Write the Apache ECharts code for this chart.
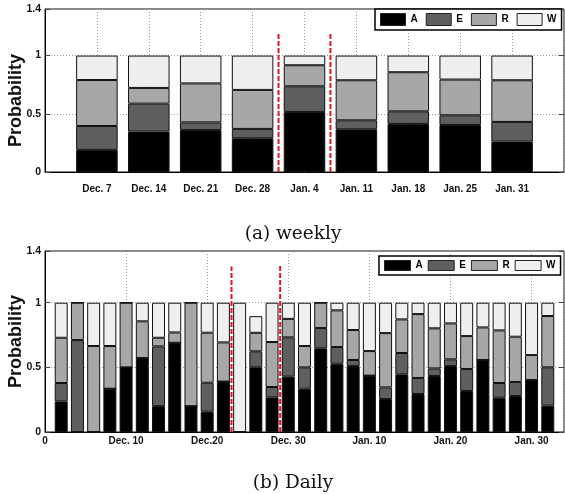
<!DOCTYPE html>
<html><head><meta charset="utf-8">
<script src="https://cdn.jsdelivr.net/npm/echarts@6/dist/echarts.min.js"></script>
<style>html,body{margin:0;padding:0;background:#fff}#c{width:565px;height:494px}</style>
</head><body><div id="c"></div>
<script>
// ---- data ----
const seriesNames = ['A', 'E', 'R', 'W'];

const weekLabels = ['Dec. 7','Dec. 14','Dec. 21','Dec. 28','Jan. 4','Jan. 11','Jan. 18','Jan. 25','Jan. 31'];
const weekA = [0.19, 0.347, 0.36, 0.29, 0.516, 0.367, 0.413, 0.404, 0.261];
const weekE = [0.205, 0.24, 0.066, 0.08, 0.22, 0.077, 0.108, 0.083, 0.169];
const weekR = [0.395, 0.135, 0.335, 0.335, 0.181, 0.344, 0.336, 0.307, 0.358];
const weekW = [0.21, 0.278, 0.239, 0.295, 0.083, 0.212, 0.143, 0.206, 0.212];
const weekDividers = [4.5, 5.5];
const weekDividerTops = [1.2, 1.2];

const dailyTickLabels = ['0', 'Dec. 10', 'Dec.20', 'Dec. 30', 'Jan. 10', 'Jan. 20', 'Jan. 30'];
const dailyDays = [2,4,6,8,10,12,14,16,18,20,22,24,26,28,30,32,34,36,38,40,42,44,46,48,50,52,54,56,58,60,62];
const dailyA = [0.237,0,0,0.335,0.5,0.572,0.2,0.69,0.2,0.157,0.39,0,0.5,0.268,0.428,0.335,0.647,0.528,0.51,0.436,0.255,0.446,0.294,0.433,0.51,0.317,0.557,0.265,0.278,0.402,0.204];
const dailyE = [0.142,0.711,0,0,0,0,0.462,0,0,0.224,0,0,0.124,0.08,0.304,0.165,0.157,0.129,0.047,0,0.09,0.165,0.124,0.059,0.052,0.17,0,0.114,0.109,0,0.296];
const dailyR = [0.35,0.289,0.665,0.33,0.5,0.284,0.067,0.08,0.8,0.387,0.303,0,0.143,0.348,0.143,0.165,0.196,0.284,0.232,0.19,0.42,0.26,0.494,0.31,0.278,0.255,0.252,0.407,0.35,0.193,0.397];
const dailyW = [0.271,0,0.335,0.335,0,0.144,0.271,0.23,0,0.232,0.307,1,0.129,0.304,0.125,0.335,0,0.059,0.211,0.374,0.235,0.129,0.088,0.198,0.16,0.258,0.191,0.214,0.263,0.405,0.103];
const dailyDividers = [23, 29];
const dailyDividerTops = [1.28, 1.3];

// ---- styles ----
const colors = ['#000000', '#5f5f5f', '#a7a7a7', '#efefef'];
const FONT = '"Liberation Sans", Arial, Helvetica, sans-serif';
const weekX = weekLabels.map((_, i) => i + 1);
const weekly = [weekA, weekE, weekR, weekW];
const daily = [dailyA, dailyE, dailyR, dailyW];

const series = [];
// data rows are [probability, position]; the value column comes first so the stack runs on y
seriesNames.forEach((n, k) => {
  series.push({
    type: 'bar', name: n, xAxisIndex: 0, yAxisIndex: 0, stack: 'week', barWidth: '80%',
    encode: { x: 1, y: 0 },
    data: weekly[k].map((v, i) => [v, weekX[i]]),
    itemStyle: { color: colors[k], borderColor: '#111', borderWidth: 1 },
    emphasis: { disabled: true }
  });
});
seriesNames.forEach((n, k) => {
  series.push({
    type: 'bar', name: n, xAxisIndex: 1, yAxisIndex: 2, stack: 'day', barWidth: '80%',
    encode: { x: 1, y: 0 },
    data: daily[k].map((v, i) => [v, dailyDays[i]]),
    itemStyle: { color: colors[k], borderColor: '#111', borderWidth: 1 },
    emphasis: { disabled: true }
  });
});
const dividerStyle = { color: '#e5141b', width: 2, type: [5, 2] };
weekDividers.forEach((x, i) => {
  series.push({ type: 'line', name: 'wd' + i, xAxisIndex: 0, yAxisIndex: 0, symbol: 'none', silent: true, z: 5,
    data: [[x, 0], [x, weekDividerTops[i]]], lineStyle: dividerStyle });
});
dailyDividers.forEach((x, i) => {
  series.push({ type: 'line', name: 'dd' + i, xAxisIndex: 1, yAxisIndex: 2, symbol: 'none', silent: true, z: 5,
    data: [[x, 0], [x, dailyDividerTops[i]]], lineStyle: dividerStyle });
});

const labelStyle = { fontFamily: FONT, fontWeight: 'bold', fontSize: 10, color: '#111' };
const splitStyle = { show: true, lineStyle: { type: [1, 2], color: '#9a9a9a', width: 1 } };

function leftY(grid, padding) {
  return {
    type: 'value', gridIndex: grid, min: 0, max: 1.4, interval: 0.5,
    name: 'Probability', nameLocation: 'middle', nameGap: 20, nameMoveOverlap: false,
    nameTextStyle: { fontFamily: FONT, fontWeight: 'bold', fontSize: 18, color: '#111', padding: padding },
    axisLine: { show: true, lineStyle: { color: '#000', width: 1 } },
    axisTick: { show: true, inside: true, length: 5, lineStyle: { color: '#444' } },
    axisLabel: Object.assign({}, labelStyle, { margin: 4, fontSize: 10.5 }),
    splitLine: splitStyle
  };
}
function rightY(grid) {
  return {
    type: 'value', gridIndex: grid, position: 'right', min: 0, max: 1.4, interval: 0.5,
    axisLine: { show: false }, axisLabel: { show: false }, splitLine: { show: false },
    axisTick: { show: true, inside: true, length: 5, lineStyle: { color: '#444' } }
  };
}

function legendCfg(top, left, h, w, gap) {
  return {
    data: seriesNames, top: top, left: left, orient: 'horizontal',
    itemWidth: w, itemHeight: h, itemGap: gap, icon: 'rect',
    padding: [4, 5, 4, 5], borderColor: '#000', borderWidth: 1.5, backgroundColor: '#fff',
    textStyle: { fontFamily: FONT, fontWeight: 'bold', fontSize: 10, color: '#000' },
    itemStyle: { borderColor: '#222', borderWidth: 1 },
    selectedMode: false, z: 20
  };
}

const gridBase = { left: 45, right: 1, show: true, borderColor: '#111', borderWidth: 1,
  backgroundColor: 'transparent', containLabel: false, outerBoundsMode: 'none' };

const option = {
  animation: false,
  backgroundColor: '#fff',
  grid: [
    Object.assign({ top: 9, height: 163 }, gridBase),
    Object.assign({ top: 251, height: 181 }, gridBase)
  ],
  legend: [legendCfg(9, 375, 12, 25, 8), legendCfg(256, 379, 10, 26, 5)],
  xAxis: [
    {
      type: 'value', gridIndex: 0, min: 0, max: 10, interval: 1,
      axisLine: { show: true, lineStyle: { color: '#000', width: 1 } },
      axisTick: { show: false },
      axisLabel: Object.assign({ margin: 12, formatter: v => weekLabels[v - 1] || '' }, labelStyle),
      splitLine: splitStyle
    },
    {
      type: 'value', gridIndex: 1, min: 0, max: 64, interval: 10,
      axisLine: { show: true, lineStyle: { color: '#000', width: 1 } },
      axisTick: { show: false },
      axisLabel: Object.assign({ margin: 4, formatter: v => (v % 10 === 0 && dailyTickLabels[v / 10] !== undefined) ? dailyTickLabels[v / 10] : '' }, labelStyle),
      splitLine: splitStyle
    }
  ],
  yAxis: [leftY(0, [0, 20, 0, 0]), rightY(0), leftY(1, [0, 0, 0, 0]), rightY(1)],
  series: series,
  graphic: [
    { type: 'text', x: 293, y: 234, style: { text: '(a) weekly', fontFamily: '"DejaVu Serif", serif', fontSize: 18.5, fill: '#111', align: 'center', verticalAlign: 'middle' } },
    { type: 'text', x: 293, y: 483, style: { text: '(b) Daily', fontFamily: '"DejaVu Serif", serif', fontSize: 18.5, fill: '#111', align: 'center', verticalAlign: 'middle' } }
  ]
};

const chart = echarts.init(document.getElementById('c'));
chart.setOption(option);
</script>
</body></html>
